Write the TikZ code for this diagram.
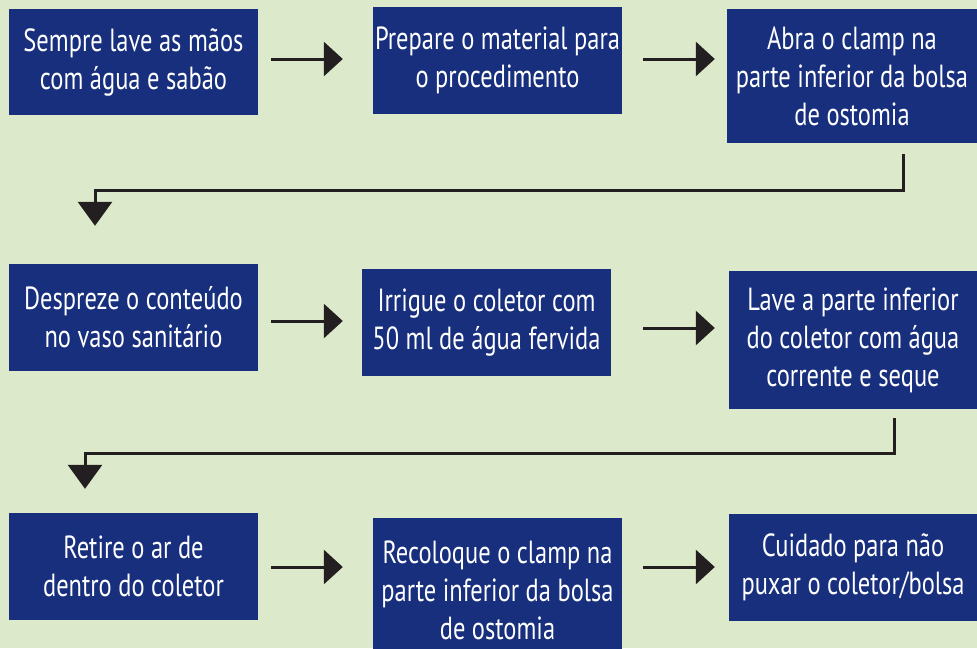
\documentclass[tikz,border=0pt]{standalone}
\usepackage{fontspec}
\setmainfont{PT Sans}[FakeStretch=0.765]
\usetikzlibrary{arrows.meta}
\definecolor{bgcol}{HTML}{DCE9CA}
\definecolor{boxcol}{HTML}{172F7C}
\definecolor{arrcol}{HTML}{231F20}
\begin{document}
\begin{tikzpicture}[x=1pt,y=-1pt,
  stepbox/.style={fill=boxcol,text=white,inner sep=0pt,align=center,
    font={\fontsize{32}{38}\selectfont}},
  harr/.style={draw=arrcol,line width=3pt,-{Triangle[length=19pt,width=34pt]}},
  varr/.style={draw=arrcol,line width=3pt,-{Triangle[length=24pt,width=34pt]}}]
\useasboundingbox (0,0) rectangle (977,648);
\clip (0,0) rectangle (977,648);
\fill[bgcol] (0,0) rectangle (977,648);
% row 1
\node[stepbox,minimum width=249pt,minimum height=106pt] (b1) at (133.5,62) {Sempre lave as mãos\\com água e sabão};
\node[stepbox,minimum width=249pt,minimum height=107pt] (b2) at (497.5,60.5) {Prepare o material para\\o procedimento};
\node[stepbox,minimum width=250pt,minimum height=134pt] (b3) at (852,76) {Abra o clamp na\\parte inferior da bolsa\\de ostomia};
% row 2
\node[stepbox,minimum width=249pt,minimum height=107pt] (b4) at (133.5,317.5) {Despreze o conteúdo\\no vaso sanitário};
\node[stepbox,minimum width=249pt,minimum height=107pt] (b5) at (486.5,322.5) {Irrigue o coletor com\\50 ml de água fervida};
\node[stepbox,minimum width=248pt,minimum height=138pt] (b6) at (853,340) {Lave a parte inferior\\do coletor com água\\corrente e seque};
% row 3
\node[stepbox,minimum width=249pt,minimum height=107pt] (b7) at (133.5,566.5) {Retire o ar de\\dentro do coletor};
\node[stepbox,minimum width=249pt,minimum height=144pt] (b8) at (497.5,590) {Recoloque o clamp na\\parte inferior da bolsa\\de ostomia};
\node[stepbox,minimum width=248pt,minimum height=107pt] (b9) at (853,567.5) {Cuidado para não\\puxar o coletor/bolsa};
% connectors
\draw[harr] ([shift={(13,-3)}]b1.east) -- ([shift={(-30,-1.5)}]b2.west);
\draw[harr] ([shift={(21,-1.5)}]b2.east) -- ([shift={(-12,-17)}]b3.west);
\draw[varr] ([shift={(51,11)}]b3.south) -- ++(0,36) -| ([shift={(-38.5,-38)}]b4.north);
\draw[harr] ([shift={(13,3.5)}]b4.east) -- ([shift={(-19,-1.5)}]b5.west);
\draw[harr] ([shift={(32,5.5)}]b5.east) -- ([shift={(-14,-12)}]b6.west);
\draw[varr] ([shift={(41,9)}]b6.south) -- ++(0,35) -| ([shift={(-48.5,-24)}]b7.north);
\draw[harr] ([shift={(13,0.5)}]b7.east) -- ([shift={(-30,-23)}]b8.west);
\draw[harr] ([shift={(21,-23)}]b8.east) -- ([shift={(-14,-0.5)}]b9.west);
\end{tikzpicture}
\end{document}
